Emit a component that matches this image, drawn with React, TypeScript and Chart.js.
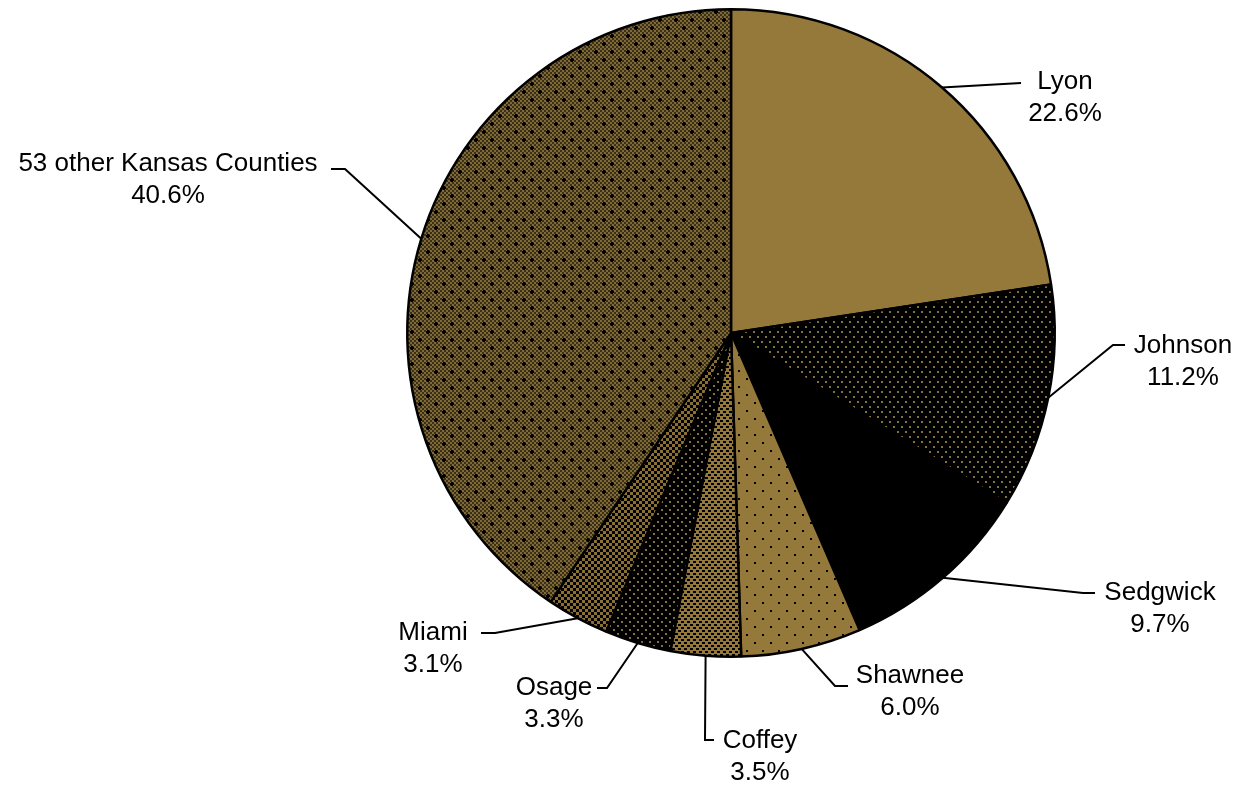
import React, { useEffect, useRef } from "react";
import { Chart, registerables } from "chart.js";

Chart.register(...registerables);

const categories = ["Lyon", "Johnson", "Sedgwick", "Shawnee", "Coffey", "Osage", "Miami", "53 other Kansas Counties"];
const shares = [22.6, 11.2, 9.7, 6.0, 3.5, 3.3, 3.1, 40.6];
const shareLabels = ["22.6%", "11.2%", "9.7%", "6.0%", "3.5%", "3.3%", "3.1%", "40.6%"];

// label layout (text centre x, first line y) and leader elbow / end points
const labelPos: [number, number][] = [
  [1065, 82], [1183, 346], [1160, 593], [910, 676], [760, 741], [554, 688], [433, 633], [168, 164],
];
const leaderPts: [number, number][][] = [
  [[1021, 83]],
  [[1113, 345], [1125, 345]],
  [[1083, 593], [1095, 593]],
  [[835, 686], [848, 686]],
  [[705, 740], [714, 740]],
  [[607, 688], [597, 688]],
  [[495, 633], [481, 633]],
  [[345, 169], [331, 169]],
];

const GOLD = "#95793A";

function makePattern(w: number, h: number, bg: string, draw: (c: CanvasRenderingContext2D) => void) {
  const cv = document.createElement("canvas");
  cv.width = w;
  cv.height = h;
  const c = cv.getContext("2d")!;
  c.fillStyle = bg;
  c.fillRect(0, 0, w, h);
  draw(c);
  return c.createPattern(cv, "repeat")!;
}

function buildFills() {
  const lyon = GOLD;
  const johnson = makePattern(8, 10, "#000", (c) => {
    c.fillStyle = "#86703a";
    c.fillRect(1, 1, 2, 2);
    c.fillRect(5, 6, 2, 2);
  });
  const sedgwick = "#000";
  const shawnee = makePattern(16, 16, GOLD, (c) => {
    c.fillStyle = "#000";
    c.fillRect(2, 2, 2, 2);
    c.fillRect(10, 10, 2, 2);
  });
  const coffey = makePattern(6, 6, GOLD, (c) => {
    c.fillStyle = "#000";
    c.fillRect(0, 0, 3, 2);
    c.fillRect(3, 3, 3, 2);
  });
  const osage = makePattern(8, 8, "#000", (c) => {
    c.fillStyle = "#86703a";
    c.fillRect(1, 1, 2, 2);
    c.fillRect(5, 5, 2, 2);
  });
  const miami = makePattern(6, 6, "#000", (c) => {
    c.fillStyle = "#8a7035";
    c.fillRect(0, 0, 3, 3);
    c.fillRect(3, 3, 3, 3);
  });
  const other = makePattern(16, 16, "#3a3017", (c) => {
    c.fillStyle = "#806934";
    for (let y = 0; y < 16; y += 2) {
      for (let x = 0; x < 16; x += 2) {
        if (((x + y) / 2) % 2 === 0) c.fillRect(x, y, 2, 2);
      }
    }
    c.fillStyle = "#000";
    c.fillRect(2, 3, 4, 2);
    c.fillRect(3, 2, 2, 4);
    c.fillRect(10, 11, 4, 2);
    c.fillRect(11, 10, 2, 4);
  });
  return [lyon, johnson, sedgwick, shawnee, coffey, osage, miami, other];
}

const labelPlugin = {
  id: "outerLabels",
  afterDatasetsDraw(chart: any) {
    const ctx = chart.ctx as CanvasRenderingContext2D;
    const meta = chart.getDatasetMeta(0);
    ctx.save();
    meta.data.forEach((arc: any, i: number) => {
      const { x, y, startAngle, endAngle, outerRadius } = arc.getProps(["x", "y", "startAngle", "endAngle", "outerRadius"], true);
      const mid = (startAngle + endAngle) / 2;
      const px = x + Math.cos(mid) * outerRadius;
      const py = y + Math.sin(mid) * outerRadius;
      ctx.strokeStyle = "#000";
      ctx.lineWidth = 2;
      ctx.beginPath();
      ctx.moveTo(px, py);
      leaderPts[i].forEach(([lx, ly]) => ctx.lineTo(lx, ly));
      ctx.stroke();
      ctx.fillStyle = "#000";
      ctx.font = '26px "Liberation Sans", Arial, sans-serif';
      ctx.textAlign = "center";
      ctx.textBaseline = "middle";
      const [tx, ty] = labelPos[i];
      ctx.fillText(categories[i], tx, ty);
      ctx.fillText(shareLabels[i], tx, ty + 32);
    });
    ctx.restore();
  },
};

export default function App() {
  const ref = useRef<HTMLCanvasElement>(null);
  useEffect(() => {
    document.body.style.margin = "0";
    const chart = new Chart(ref.current!, {
      type: "pie",
      data: {
        labels: categories,
        datasets: [
          {
            data: shares,
            backgroundColor: buildFills() as any,
            borderColor: "#000",
            borderWidth: 2.5,
          },
        ],
      },
      options: {
        responsive: false,
        animation: false,
        devicePixelRatio: 1,
        layout: { padding: { left: 406, right: 185, top: 8, bottom: 129 } },
        plugins: { legend: { display: false }, tooltip: { enabled: false } },
      },
      plugins: [labelPlugin],
    });
    return () => chart.destroy();
  }, []);
  return (
    <div style={{ width: 1241, height: 787, background: "#fff" }}>
      <canvas ref={ref} width={1241} height={787} style={{ display: "block" }} />
    </div>
  );
}
